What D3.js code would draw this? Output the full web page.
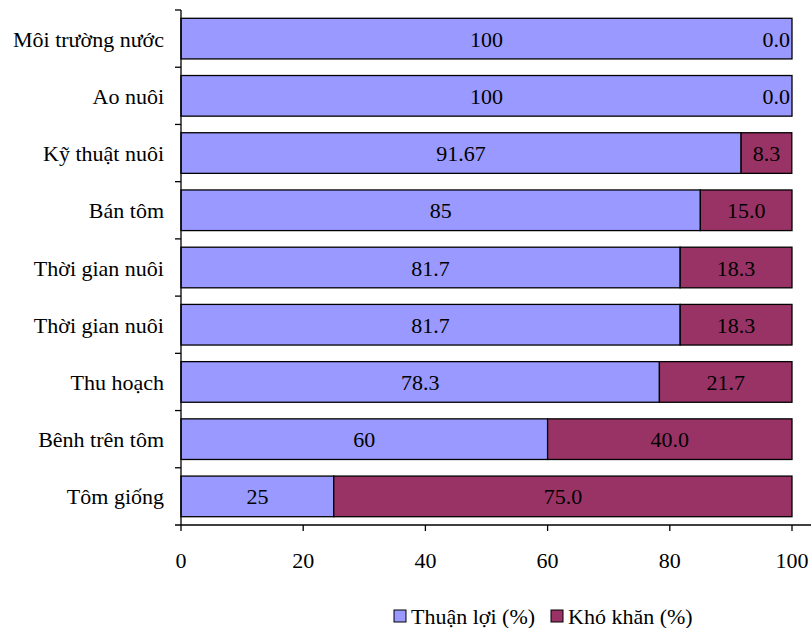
<!DOCTYPE html>
<html>
<head>
<meta charset="utf-8">
<script src="https://cdn.jsdelivr.net/npm/d3@7/dist/d3.min.js"></script>
</head>
<body style="margin:0">
<svg id="chart" width="811" height="628"></svg>
<script>
// Survey categories, top to bottom
const categories = [
  "Môi trường nước", "Ao nuôi", "Kỹ thuật nuôi", "Bán tôm",
  "Thời gian nuôi", "Thời gian nuôi", "Thu hoạch", "Bênh trên tôm", "Tôm giống"
];
// Share of respondents (%)
const favourable = [100, 100, 91.67, 85, 81.7, 81.7, 78.3, 60, 25];
const difficult = [0.0, 0.0, 8.3, 15.0, 18.3, 18.3, 21.7, 40.0, 75.0];
const xTicks = [0, 20, 40, 60, 80, 100];
const seriesNames = ["Thuận lợi (%)", "Khó khăn (%)"];
const colors = ["#9999ff", "#993366"];

const svg = d3.select("#chart");
const plotL = 181, plotR = 792, plotT = 10, plotB = 525;

const x = d3.scaleLinear().domain([0, 100]).range([plotL, plotR]);
const y = d3.scaleBand().domain(d3.range(categories.length)).range([plotT, plotB])
  .paddingInner(0.29).paddingOuter(0.145);

const rows = categories.map((c, i) => ({ i, c, a: favourable[i], b: difficult[i] }));

// Stacked bars
svg.selectAll("rect.fav").data(rows).join("rect").attr("class", "fav")
  .attr("x", d => x(0)).attr("y", d => y(d.i))
  .attr("width", d => x(d.a) - x(0)).attr("height", y.bandwidth())
  .attr("fill", colors[0]).attr("stroke", "#000").attr("stroke-width", 1.3);
svg.selectAll("rect.dif").data(rows.filter(d => d.b > 0)).join("rect").attr("class", "dif")
  .attr("x", d => x(d.a)).attr("y", d => y(d.i))
  .attr("width", d => x(d.a + d.b) - x(d.a)).attr("height", y.bandwidth())
  .attr("fill", colors[1]).attr("stroke", "#000").attr("stroke-width", 1.3);

// Axis lines and ticks
svg.append("line").attr("x1", plotL).attr("x2", plotL).attr("y1", plotT).attr("y2", plotB)
  .attr("stroke", "#000").attr("stroke-width", 1.3);
const bounds = d3.range(categories.length).map(i => plotT + i * (plotB - plotT) / categories.length);
svg.selectAll("line.yt").data(bounds).join("line").attr("class", "yt")
  .attr("x1", plotL - 6).attr("x2", plotL).attr("y1", d => d).attr("y2", d => d)
  .attr("stroke", "#000").attr("stroke-width", 1.3);
svg.append("line").attr("x1", plotL - 6).attr("x2", 811).attr("y1", plotB).attr("y2", plotB)
  .attr("stroke", "#000").attr("stroke-width", 1.3);
svg.selectAll("line.xt").data(xTicks).join("line").attr("class", "xt")
  .attr("x1", d => x(d)).attr("x2", d => x(d)).attr("y1", plotB).attr("y2", plotB + 6)
  .attr("stroke", "#000").attr("stroke-width", 1.3);

// Legend swatches
const legendX = [394, 551];
svg.selectAll("rect.key").data(seriesNames).join("rect").attr("class", "key")
  .attr("x", (d, i) => legendX[i]).attr("y", 610).attr("width", 12).attr("height", 12)
  .attr("fill", (d, i) => colors[i]).attr("stroke", "#000").attr("stroke-width", 1);

// All text in one list, drawn in a serif face
const mid = i => y(i) + y.bandwidth() / 2 + 8;
const labels = [];
rows.forEach(d => {
  labels.push({ t: String(d.a), x: (x(0) + x(d.a)) / 2, y: mid(d.i), a: "middle" });
  labels.push(d.b > 0
    ? { t: d.b.toFixed(1), x: (x(d.a) + x(d.a + d.b)) / 2, y: mid(d.i), a: "middle" }
    : { t: d.b.toFixed(1), x: x(100) - 2, y: mid(d.i), a: "end" });
  labels.push({ t: d.c, x: 164, y: mid(d.i), a: "end" });
});
xTicks.forEach(v => labels.push({ t: String(v), x: x(v), y: 568, a: "middle" }));
seriesNames.forEach((n, i) => labels.push({ t: n, x: legendX[i] + 17, y: 624, a: "start" }));

svg.selectAll("text").data(labels).join("text")
  .attr("x", d => d.x).attr("y", d => d.y).attr("text-anchor", d => d.a)
  .style("font-family", "Liberation Serif").style("font-size", "22px")
  .text(d => d.t);
</script>
</body>
</html>
